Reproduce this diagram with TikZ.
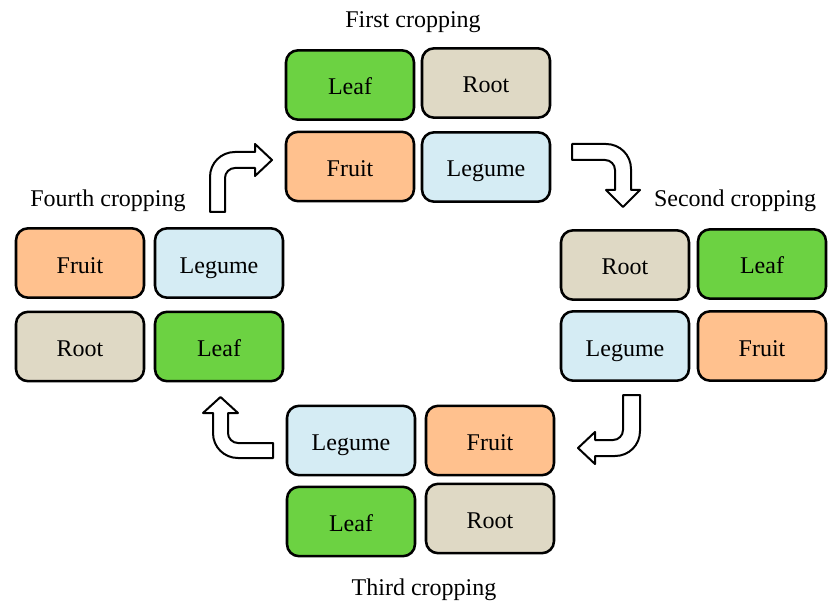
\documentclass[tikz,border=0pt]{standalone}
\usepackage{fontspec}
\setmainfont{Liberation Serif}
\definecolor{leafc}{HTML}{6CD242}
\definecolor{rootc}{HTML}{DFD9C5}
\definecolor{fruitc}{HTML}{FFC18E}
\definecolor{legc}{HTML}{D5ECF4}
\tikzset{
  crop/.style={draw=black, line width=1.9pt, rounded corners=9pt, minimum width=96pt, minimum height=52pt, inner sep=0pt, text height=15pt, text depth=0pt, font=\fontsize{18}{21}\selectfont},
  leafbox/.style={crop, fill=leafc},
  rootbox/.style={crop, fill=rootc},
  fruitbox/.style={crop, fill=fruitc},
  legbox/.style={crop, fill=legc},
  title/.style={font=\fontsize{18}{21}\selectfont, inner sep=0pt, text height=15pt, text depth=0pt},
  blockarrow/.style={draw=black, fill=white, line width=1.5pt, line join=round}
}
\begin{document}
\begin{tikzpicture}[x=0.75pt, y=-0.75pt]
\useasboundingbox (0,0) rectangle (835,602);
% First cropping
\node[title] (t1) at (413,18) {First cropping};
\node[leafbox]  (a1) at (350,85)    {Leaf};
\node[rootbox]  (a2) at (486,83)    {Root};
\node[fruitbox] (a3) at (350,166.5) {Fruit};
\node[legbox]   (a4) at (486,167)   {Legume};
% Second cropping
\node[title] (t2) at (735,197) {Second cropping};
\node[rootbox]  (b1) at (625,265) {Root};
\node[leafbox]  (b2) at (762,264) {Leaf};
\node[legbox]   (b3) at (625,346) {Legume};
\node[fruitbox] (b4) at (762,346) {Fruit};
% Third cropping
\node[title] (t3) at (424,585) {Third cropping};
\node[legbox]   (c1) at (351,440.5) {Legume};
\node[fruitbox] (c2) at (490,440.5) {Fruit};
\node[leafbox]  (c3) at (351,521.5) {Leaf};
\node[rootbox]  (c4) at (490,518.5) {Root};
% Fourth cropping
\node[title] (t4) at (108,197) {Fourth cropping};
\node[fruitbox] (d1) at (80,263)    {Fruit};
\node[legbox]   (d2) at (219,263)   {Legume};
\node[rootbox]  (d3) at (80,346.5)  {Root};
\node[leafbox]  (d4) at (219,346.5) {Leaf};
% Arrows
\draw[blockarrow] (210,212) -- (210,177) .. controls (210,163) and (221,152) .. (235,152)
  -- (255,152) -- (255,144) -- (272,160) -- (255,176) -- (255,168) -- (235,168)
  .. controls (229.5,168) and (225,172.5) .. (225,178) -- (225,212) -- cycle;
\draw[blockarrow] (572,144) -- (606,144) .. controls (620,144) and (631,155) .. (631,169)
  -- (631,190) -- (640,190) -- (623,207) -- (606,190) -- (615,190) -- (615,170)
  .. controls (615,164.5) and (610.5,160) .. (605,160) -- (572,160) -- cycle;
\draw[blockarrow] (623,395) -- (640,395) -- (640,431) .. controls (640,445) and (629,456) .. (615,456)
  -- (595,456) -- (595,464) -- (578,448) -- (595,432) -- (595,440) -- (613,440)
  .. controls (618.5,440) and (623,435.5) .. (623,430) -- cycle;
\draw[blockarrow] (273,458) -- (238,458) .. controls (224,458) and (213,447) .. (213,433)
  -- (213,413) -- (203,413) -- (220.5,397) -- (238,413) -- (228,413) -- (228,433)
  .. controls (228,438.5) and (232.5,443) .. (238,443) -- (273,443) -- cycle;
\end{tikzpicture}
\end{document}
